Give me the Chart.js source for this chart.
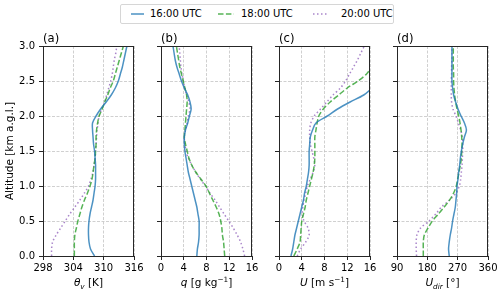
<!DOCTYPE html>
<html>
<head>
<meta charset="utf-8">
<script src="https://cdn.jsdelivr.net/npm/chart.js@4"></script>
<style>
  html, body { margin: 0; padding: 0; background: #fff; }
  #fig { position: relative; width: 500px; height: 295px; overflow: hidden;
         font-family: 'DejaVu Sans', sans-serif; color: #000; }
  #fig canvas { position: absolute; left: 0; top: 0; }
  .panel-title { position: absolute; top: 31px; font-size: 11.6px; line-height: 14px; }
  .x-title { position: absolute; top: 275px; width: 118px; text-align: center;
             font-size: 10.5px; line-height: 14px; white-space: nowrap; }
  .x-title i { font-style: italic; }
  .sub { font-size: 7.3px; position: relative; top: 2.5px; }
  .sup { font-size: 7.3px; position: relative; top: -3.8px; }
  #legend { position: absolute; left: 120px; top: 4px; width: 272px; height: 18px;
            border: 1px solid #d6d6d6; border-radius: 2px; background: #fff; }
  #legend .swatch { position: absolute; top: 7px; }
  #legend .text { position: absolute; top: 3px; font-size: 10px; line-height: 12px; white-space: nowrap; }
</style>
</head>
<body>
<div id="fig">
  <canvas id="chartTheta" width="500" height="295"></canvas>
  <canvas id="chartQ" width="500" height="295"></canvas>
  <canvas id="chartWind" width="500" height="295"></canvas>
  <canvas id="chartDir" width="500" height="295"></canvas>
  <div id="legend"></div>
</div>
<script>
// Altitude levels [km a.g.l.] shared by all profiles
const altitudes = [0.0, 0.1, 0.2, 0.3, 0.4, 0.5, 0.6, 0.7, 0.8, 0.9,
                   1.0, 1.1, 1.2, 1.3, 1.4, 1.5, 1.6, 1.7, 1.8, 1.9,
                   2.0, 2.1, 2.2, 2.3, 2.4, 2.5, 2.6, 2.7, 2.8, 2.9, 3.0];
const timeLabels = ['16:00 UTC', '18:00 UTC', '20:00 UTC'];

// (a) virtual potential temperature [K]
const thetaV1600 = [308.2, 307.4, 307.1, 307.0, 307.0, 307.1, 307.3, 307.6, 307.9, 308.1,
                    308.3, 308.4, 308.4, 308.4, 308.3, 308.2, 308.0, 307.9, 307.8, 307.8,
                    308.5, 309.4, 310.5, 311.5, 312.3, 312.9, 313.3, 313.7, 314.0, 314.3, 314.6];
const thetaV1800 = [304.2, 304.2, 304.2, 304.3, 304.6, 304.9, 305.3, 305.7, 306.2, 306.8,
                    307.3, 307.7, 307.9, 308.1, 308.3, 308.4, 308.5, 308.5, 308.6, 308.8,
                    309.1, 309.7, 310.2, 310.8, 311.3, 311.9, 312.3, 312.7, 313.1, 313.5, 313.9];
const thetaV2000 = [299.7, 299.7, 299.9, 300.6, 301.5, 302.4, 303.3, 304.3, 305.3, 306.2,
                    307.0, 307.5, 307.9, 308.1, 308.3, 308.4, 308.5, 308.6, 308.7, 308.9,
                    309.1, 309.6, 310.2, 310.6, 311.0, 311.4, 311.7, 311.9, 312.1, 312.4, 312.6];

// (b) specific humidity [g/kg]
const q1600 = [6.3, 6.4, 6.6, 6.7, 6.7, 6.7, 6.5, 6.3, 6.0, 5.7,
               5.4, 5.1, 4.8, 4.6, 4.4, 4.2, 4.1, 4.1, 4.3, 4.7,
               5.0, 5.3, 5.1, 4.7, 4.1, 3.6, 3.2, 2.8, 2.5, 2.3, 2.1];
const q1800 = [11.2, 11.1, 11.0, 10.8, 10.7, 10.5, 10.2, 9.7, 9.1, 8.5,
               7.9, 7.0, 6.1, 5.4, 4.9, 4.6, 4.3, 4.1, 4.2, 4.3,
               4.4, 4.5, 4.6, 4.5, 4.2, 3.9, 3.6, 3.3, 3.1, 2.9, 2.7];
const q2000 = [14.7, 14.4, 14.0, 13.4, 12.7, 11.9, 11.1, 10.3, 9.5, 8.6,
               7.8, 6.9, 6.1, 5.4, 4.8, 4.4, 4.2, 4.1, 4.3, 4.6,
               4.8, 5.1, 4.9, 4.5, 4.2, 3.9, 3.7, 3.5, 3.4, 3.3, 3.2];

// (c) wind speed [m/s], null where the profile leaves the plotted range
const wind1600 = [2.1, 2.4, 2.6, 2.8, 3.1, 3.4, 3.7, 4.0, 4.3, 4.5,
                  4.8, 5.0, 5.2, 5.3, 5.3, 5.3, 5.4, 5.5, 5.9, 6.5,
                  8.5, 10.3, 12.5, 14.9, 16.4, null, null, null, null, null, null];
const wind1800 = [2.6, 3.2, 3.7, 3.8, 3.9, 4.0, 4.3, 4.6, 4.8, 5.1,
                  5.4, 5.7, 6.0, 6.2, 6.3, 6.3, 6.3, 6.3, 6.5, 6.7,
                  7.0, 7.8, 9.0, 10.5, 12.0, 13.9, 15.4, 16.3, null, null, null];
const wind2000 = [3.2, 3.8, 4.7, 5.3, 5.1, 4.4, 4.1, 4.2, 4.4, 4.7,
                  5.0, 5.5, 6.0, 6.3, 6.1, 5.8, 5.5, 5.4, 5.4, 5.6,
                  6.2, 7.3, 8.4, 9.5, 10.8, 11.7, 12.4, 13.1, 13.8, 14.4, 15.0];

// (d) wind direction [deg]
const dir1600 = [245, 243, 245, 248, 252, 255, 259, 263, 265, 267,
                 268, 271, 273, 276, 278, 281, 285, 290, 296, 290,
                 280, 271, 264, 258, 255, 253, 253, 253, 253, 253, 253];
const dir1800 = [168, 168, 168, 171, 182, 195, 213, 230, 246, 258,
                 266, 270, 274, 278, 281, 282, 283, 282, 280, 277,
                 273, 268, 264, 261, 259, 258, 258, 257, 257, 257, 257];
const dir2000 = [148, 147, 147, 149, 160, 185, 205, 222, 246, 265,
                 275, 279, 281, 283, 284, 285, 285, 284, 279, 272,
                 265, 256, 252, 251, 251, 251, 252, 252, 253, 253, 253];

// Tick values
const altTicks = [0, 0.5, 1.0, 1.5, 2.0, 2.5, 3.0];
const thetaTicks = [298, 304, 310, 316];
const qTicks = [0, 4, 8, 12, 16];
const windTicks = [0, 4, 8, 12, 16];
const dirTicks = [90, 180, 270, 360];

// Line styles per launch time
const lineStyles = [
    { color: 'rgba(31, 119, 180, 0.8)', dash: [] },
    { color: 'rgba(44, 160, 44, 0.8)', dash: [5.5, 2.4] },
    { color: 'rgba(148, 103, 189, 0.8)', dash: [1.5, 2.5] }
];

const panels = [
    { canvas: 'chartTheta', title: '(a)', ticks: thetaTicks, series: [thetaV1600, thetaV1800, thetaV2000],
      xTitle: '<i>θ</i><span class="sub"><i>v</i></span> [K]' },
    { canvas: 'chartQ', title: '(b)', ticks: qTicks, series: [q1600, q1800, q2000],
      xTitle: '<i>q</i> [g kg<span class="sup">−1</span>]' },
    { canvas: 'chartWind', title: '(c)', ticks: windTicks, series: [wind1600, wind1800, wind2000],
      xTitle: '<i>U</i> [m s<span class="sup">−1</span>]' },
    { canvas: 'chartDir', title: '(d)', ticks: dirTicks, series: [dir1600, dir1800, dir2000],
      xTitle: '<i>U</i><span class="sub"><i>dir</i></span> [°]' }
];

// Layout in pixels
const plotTop = 46, plotBottom = 256, plotWidth = 91, firstLeft = 43, panelStep = 118;
const yAxisWidth = 43, xAxisHeight = 20;

Chart.defaults.font.family = "'DejaVu Sans', sans-serif";
Chart.defaults.font.size = 10;
Chart.defaults.color = '#000';

// Draw the full box round each plot (matplotlib spines)
const frame = {
    id: 'frame',
    afterDraw(chart) {
        const { ctx, chartArea: a } = chart;
        ctx.save();
        ctx.strokeStyle = '#262626';
        ctx.lineWidth = 1;
        ctx.strokeRect(Math.round(a.left) + 0.5, Math.round(a.top) + 0.5,
                       Math.round(a.right - a.left) - 1, Math.round(a.bottom - a.top));
        ctx.restore();
    }
};

function toPoints(values) {
    return values
        .map((v, i) => ({ x: v, y: altitudes[i] }))
        .filter(p => p.x !== null);
}

function useTicks(list) {
    return scale => { scale.ticks = list.map(v => ({ value: v })); };
}

const fig = document.getElementById('fig');

panels.forEach((panel, i) => {
    const left = firstLeft + panelStep * i;
    const right = left + plotWidth;
    const first = i === 0;

    new Chart(document.getElementById(panel.canvas), {
        type: 'scatter',
        data: {
            datasets: panel.series.map((values, k) => ({
                label: timeLabels[k],
                data: toPoints(values),
                showLine: true,
                borderColor: lineStyles[k].color,
                borderDash: lineStyles[k].dash,
                borderWidth: 1.5,
                pointRadius: 0,
                tension: 0.3,
                fill: false
            }))
        },
        options: {
            responsive: false,
            animation: false,
            events: [],
            layout: {
                padding: {
                    left: left - yAxisWidth,
                    right: 500 - right,
                    top: plotTop,
                    bottom: 295 - plotBottom - xAxisHeight
                }
            },
            plugins: {
                legend: { display: false },
                tooltip: { enabled: false }
            },
            scales: {
                x: {
                    type: 'linear',
                    min: panel.ticks[0],
                    max: panel.ticks[panel.ticks.length - 1],
                    afterBuildTicks: useTicks(panel.ticks),
                    afterFit: scale => { scale.height = xAxisHeight; },
                    ticks: { padding: 2, maxRotation: 0, autoSkip: false },
                    grid: { color: '#c4c4c4', lineWidth: 0.8, tickColor: '#262626', tickWidth: 1, tickLength: 4 },
                    border: { display: false, dash: [3, 1.5] }
                },
                y: {
                    type: 'linear',
                    min: 0,
                    max: 3,
                    afterBuildTicks: useTicks(altTicks),
                    afterFit: scale => { scale.width = yAxisWidth; },
                    ticks: { display: first, padding: 4, callback: v => v.toFixed(1) },
                    title: {
                        display: first,
                        text: 'Altitude [km a.g.l.]',
                        font: { size: 10.5 },
                        padding: { top: 4, bottom: 0 }
                    },
                    grid: { color: '#c4c4c4', lineWidth: 0.8, tickColor: '#262626', tickWidth: 1, tickLength: 4 },
                    border: { display: false, dash: [3, 1.5] }
                }
            }
        },
        plugins: [frame]
    });

    const title = document.createElement('div');
    title.className = 'panel-title';
    title.style.left = left + 'px';
    title.textContent = panel.title;
    fig.appendChild(title);

    const xTitle = document.createElement('div');
    xTitle.className = 'x-title';
    xTitle.style.left = (left + plotWidth / 2 - 59) + 'px';
    xTitle.innerHTML = panel.xTitle;
    fig.appendChild(xTitle);
});

// Legend
const legend = document.getElementById('legend');
const swatchX = [10, 97, 192];
const textX = [29, 120, 220];
timeLabels.forEach((label, k) => {
    const svg = document.createElementNS('http://www.w3.org/2000/svg', 'svg');
    svg.setAttribute('class', 'swatch');
    svg.setAttribute('width', '16');
    svg.setAttribute('height', '4');
    svg.style.left = swatchX[k] + 'px';
    const line = document.createElementNS('http://www.w3.org/2000/svg', 'line');
    line.setAttribute('x1', '0');
    line.setAttribute('y1', '2');
    line.setAttribute('x2', k === 0 ? '13' : '16');
    line.setAttribute('y2', '2');
    line.setAttribute('stroke', lineStyles[k].color);
    line.setAttribute('stroke-width', '1.5');
    if (lineStyles[k].dash.length) line.setAttribute('stroke-dasharray', lineStyles[k].dash.join(' '));
    svg.appendChild(line);
    legend.appendChild(svg);

    const text = document.createElement('span');
    text.className = 'text';
    text.style.left = textX[k] + 'px';
    text.textContent = label;
    legend.appendChild(text);
});
</script>
</body>
</html>
